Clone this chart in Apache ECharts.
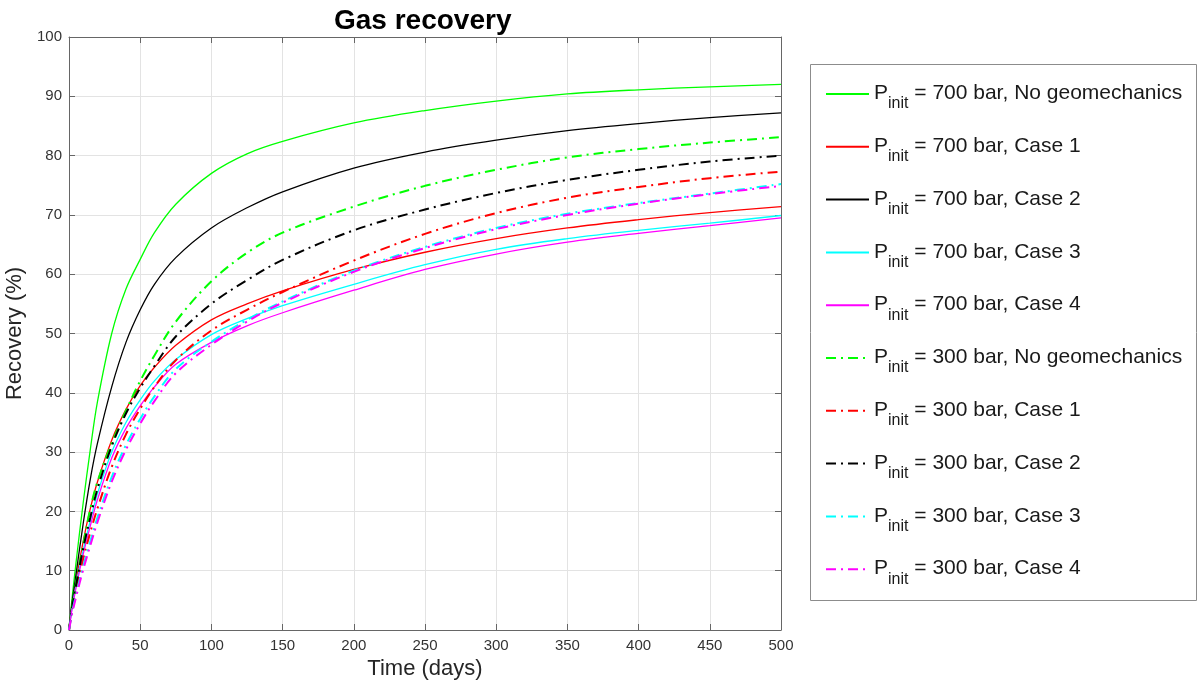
<!DOCTYPE html>
<html>
<head>
<meta charset="utf-8">
<title>Gas recovery</title>
<script src="https://cdn.jsdelivr.net/npm/echarts@6/dist/echarts.min.js"></script>
<style>
  html, body { margin: 0; padding: 0; background: #ffffff; }
  #chart { width: 1200px; height: 688px; }
</style>
</head>
<body>
<div id="chart"></div>
<script>
// Time samples (days) shared by every recovery curve
const days = [0, 1, 2, 5, 10, 15, 20, 30, 40, 50, 60, 75, 100, 125, 150, 200, 250, 300, 350, 400, 450, 500];

// Recovery (%) for an initial pressure of 700 bar
const rec700NoGeo = [0, 2.5, 5, 11.5, 21.5, 30.5, 38.5, 50, 57.5, 62.5, 67, 71.8, 77, 80.3, 82.4, 85.5, 87.6, 89.2, 90.4, 91.1, 91.6, 92.0];
const rec700Case1 = [0, 2, 3.8, 8.3, 15, 20.5, 25, 32, 37.2, 41.2, 44.3, 48, 52.3, 55, 57.2, 60.8, 63.7, 66, 67.8, 69.2, 70.4, 71.4];
const rec700Case2 = [0, 2.2, 4.3, 9.5, 18, 25.5, 31.5, 41, 48.5, 54, 58.3, 62.8, 67.8, 71.2, 73.9, 77.9, 80.6, 82.6, 84.2, 85.4, 86.4, 87.2];
const rec700Case3 = [0, 1.8, 3.5, 7.6, 13.5, 18.5, 23, 30, 35, 38.8, 42, 45.6, 49.8, 52.5, 54.7, 58.3, 61.6, 64.2, 66, 67.4, 68.6, 69.9];
const rec700Case4 = [0, 1.7, 3.3, 7.2, 12.8, 17.6, 22, 29, 34, 37.8, 41, 44.8, 48.5, 51.3, 53.5, 57.3, 60.8, 63.4, 65.4, 66.9, 68.2, 69.5];

// Recovery (%) for an initial pressure of 300 bar
const rec300NoGeo = [0, 1.9, 3.6, 8, 14.5, 20.5, 25, 31.5, 37, 42, 46.3, 52, 58.8, 63.6, 67, 71.4, 74.9, 77.6, 79.7, 81.1, 82.2, 83.1];
const rec300Case1 = [0, 1.6, 3.1, 6.6, 12, 16.5, 20.5, 27.5, 33, 37.3, 41, 45.5, 50.5, 54, 57, 62.3, 66.8, 70.3, 72.9, 74.7, 76.2, 77.3];
const rec300Case2 = [0, 1.8, 3.5, 7.6, 13.8, 19, 23.8, 31, 36.5, 40.8, 44.5, 49.5, 55, 59, 62.4, 67.4, 70.9, 73.7, 75.9, 77.6, 79, 80];
const rec300Case3 = [0, 1.4, 2.8, 6, 10.8, 15, 19, 25.8, 31.2, 35.6, 39.4, 44, 48.6, 52.3, 55.4, 60.6, 64.6, 67.8, 70.2, 72, 73.6, 75.2];
const rec300Case4 = [0, 1.3, 2.6, 5.6, 10.2, 14.3, 18.2, 25, 30.4, 34.8, 38.6, 43.3, 48.1, 52, 55.2, 60.4, 64.4, 67.6, 70, 71.9, 73.5, 74.9];

// Legend entries (the "P_init" prefix is added by the legend formatter)
const seriesNames = [
  '700 bar, No geomechanics', '700 bar, Case 1', '700 bar, Case 2', '700 bar, Case 3', '700 bar, Case 4',
  '300 bar, No geomechanics', '300 bar, Case 1', '300 bar, Case 2', '300 bar, Case 3', '300 bar, Case 4'
];
const seriesValues = [
  rec700NoGeo, rec700Case1, rec700Case2, rec700Case3, rec700Case4,
  rec300NoGeo, rec300Case1, rec300Case2, rec300Case3, rec300Case4
];
const seriesColors = ['#00ff00', '#ff0000', '#000000', '#00ffff', '#ff00ff',
                      '#00ff00', '#ff0000', '#000000', '#00ffff', '#ff00ff'];

// Axis ticks
const xTicks = { min: 0, max: 500, interval: 50 };
const yTicks = { min: 0, max: 100, interval: 10 };

const FONT = '"Liberation Sans", Arial, Helvetica, sans-serif';
const DASH_DOT = [10, 5, 2, 5];

const series = seriesNames.map((name, i) => {
  const dashed = i >= 5;
  return {
    name: name,
    type: 'line',
    xAxisIndex: 0,
    yAxisIndex: 0,
    data: days.map((d, k) => [d, seriesValues[i][k]]),
    smooth: 0.35,
    symbol: 'none',
    showSymbol: false,
    animation: false,
    color: seriesColors[i],
    lineStyle: {
      color: seriesColors[i],
      width: dashed ? 2 : 1.3,
      type: dashed ? DASH_DOT : 'solid'
    },
    emphasis: { disabled: true }
  };
});

const boxLine = { show: true, onZero: false, lineStyle: { color: '#666666', width: 1 } };
const tickIn = { show: true, inside: true, length: 6, lineStyle: { color: '#666666' } };

const option = {
  backgroundColor: '#ffffff',
  animation: false,
  title: {
    text: 'Gas recovery',
    left: 329,
    top: 2,
    textStyle: { fontFamily: FONT, fontWeight: 'bold', fontSize: 28, color: '#000000' }
  },
  grid: { left: 69, right: 419, top: 37, bottom: 58, containLabel: false, outerBoundsMode: 'none' },
  xAxis: [
    {
      type: 'value',
      position: 'bottom',
      min: xTicks.min, max: xTicks.max, interval: xTicks.interval,
      name: 'Time (days)',
      nameLocation: 'middle',
      nameGap: 17,
      nameTextStyle: { fontFamily: FONT, fontSize: 22, color: '#262626', verticalAlign: 'top' },
      axisLine: boxLine,
      axisTick: tickIn,
      axisLabel: { fontFamily: FONT, fontSize: 15, color: '#333333', margin: 8 },
      splitLine: { show: true, lineStyle: { color: '#e3e3e3', width: 1 } }
    },
    {
      type: 'value',
      position: 'top',
      min: xTicks.min, max: xTicks.max, interval: xTicks.interval,
      axisLine: boxLine,
      axisTick: tickIn,
      axisLabel: { show: false },
      splitLine: { show: false }
    }
  ],
  yAxis: [
    {
      type: 'value',
      position: 'left',
      min: yTicks.min, max: yTicks.max, interval: yTicks.interval,
      name: 'Recovery (%)',
      nameLocation: 'middle',
      nameGap: 28,
      nameRotate: 90,
      nameTextStyle: { fontFamily: FONT, fontSize: 22, color: '#262626' },
      axisLine: boxLine,
      axisTick: tickIn,
      axisLabel: { fontFamily: FONT, fontSize: 15, color: '#333333', margin: 7 },
      splitLine: { show: true, lineStyle: { color: '#e3e3e3', width: 1 } }
    },
    {
      type: 'value',
      position: 'right',
      min: yTicks.min, max: yTicks.max, interval: yTicks.interval,
      axisLine: boxLine,
      axisTick: tickIn,
      axisLabel: { show: false },
      splitLine: { show: false }
    }
  ],
  legend: {
    orient: 'vertical',
    left: 825,
    top: 83,
    padding: 0,
    itemWidth: 43,
    itemHeight: 14,
    itemGap: 23.8,
    selectedMode: false,
    data: seriesNames,
    itemStyle: { opacity: 0 },
    formatter: name => '{p|P}{s|init}{t| = ' + name + '}',
    textStyle: {
      fontFamily: FONT,
      color: '#1a1a1a',
      rich: {
        p: { fontFamily: FONT, fontSize: 21, lineHeight: 22, verticalAlign: 'top', color: '#1a1a1a' },
        s: { fontFamily: FONT, fontSize: 16, lineHeight: 16, padding: [13, 0, 0, 0], verticalAlign: 'top', color: '#1a1a1a' },
        t: { fontFamily: FONT, fontSize: 21, lineHeight: 22, verticalAlign: 'top', color: '#1a1a1a' }
      }
    }
  },
  graphic: [
    {
      type: 'rect',
      shape: { x: 810.5, y: 64.5, width: 386, height: 536 },
      style: { fill: 'none', stroke: '#8c8c8c', lineWidth: 1 },
      z: 0,
      silent: true
    }
  ],
  series: series
};

const chart = echarts.init(document.getElementById('chart'), null, { renderer: 'canvas' });
chart.setOption(option);
</script>
</body>
</html>
